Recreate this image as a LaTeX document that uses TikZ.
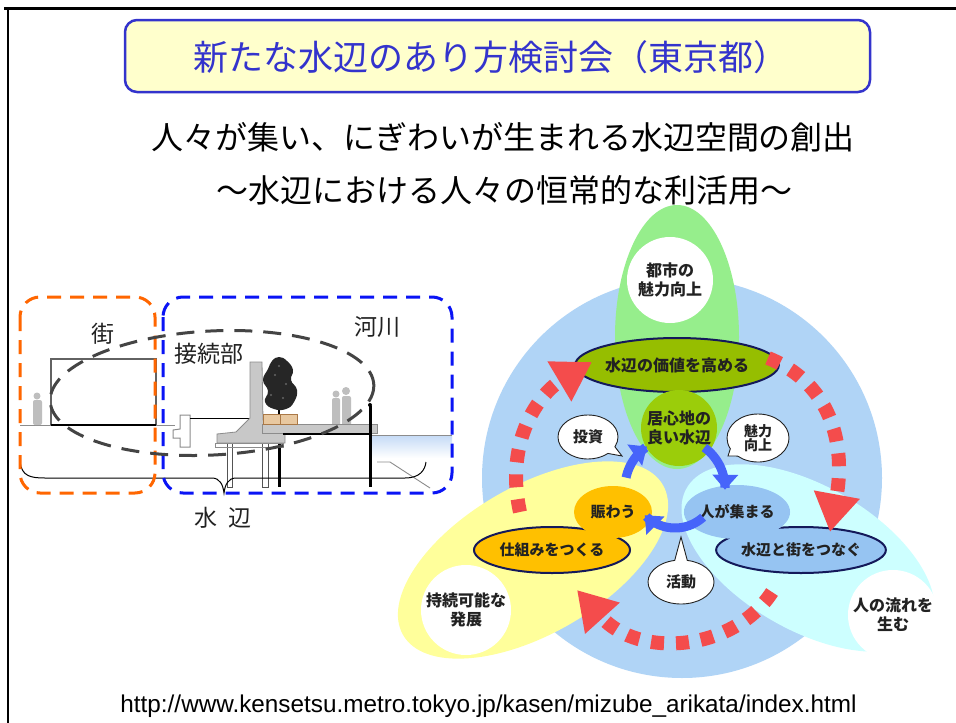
\documentclass[tikz,border=0pt]{standalone}
\usepackage{fontspec}
\setmainfont{Liberation Sans}
\newfontfamily\jp{Noto Sans CJK JP}
\usetikzlibrary{shapes.geometric,shapes.callouts,arrows.meta}

\definecolor{titlefill}{RGB}{255,255,204}
\definecolor{titleblue}{RGB}{51,51,204}
\definecolor{txt}{RGB}{34,34,34}
\definecolor{townorange}{RGB}{255,102,0}
\definecolor{riverblue}{RGB}{10,20,245}
\definecolor{linkgrey}{RGB}{68,68,68}
\definecolor{wallgrey}{RGB}{200,200,200}
\definecolor{edgegrey}{RGB}{140,140,140}
\definecolor{persongrey}{RGB}{190,190,190}
\definecolor{skyblue}{RGB}{176,212,246}
\definecolor{leafgreen}{RGB}{150,238,140}
\definecolor{olive}{RGB}{150,190,0}
\definecolor{olivelight}{RGB}{155,205,10}
\definecolor{paleyellow}{RGB}{255,255,155}
\definecolor{palecyan}{RGB}{205,255,255}
\definecolor{amber}{RGB}{255,192,0}
\definecolor{midblue}{RGB}{150,196,242}
\definecolor{navy}{RGB}{20,25,90}
\definecolor{redsq}{RGB}{244,76,76}
\definecolor{cyclearrow}{RGB}{70,100,250}
\definecolor{planter}{RGB}{232,200,160}
\definecolor{planteredge}{RGB}{170,120,70}
\definecolor{waterblue}{RGB}{196,218,246}

\tikzset{
  jpbig/.style={font=\jp\fontsize{32}{36}\selectfont, text=black, inner sep=0},
  sectlabel/.style={font=\jp\fontsize{23}{26}\selectfont, text=txt, inner sep=0},
  lblbig/.style={font=\jp\bfseries\fontsize{16}{19}\selectfont, text=txt, align=center, inner sep=0},
  oval/.style={ellipse, inner sep=0},
  bubble/.style={ellipse callout, draw=txt, fill=white, line width=0.9, inner sep=0,
                 callout pointer arc=22, font=\jp\bfseries\fontsize{15}{16}\selectfont,
                 text=txt, align=center},
  redarc/.style={draw=redsq, line width=14, dash pattern=on 13 off 12,
                 -{Triangle[width=44pt,length=38pt]}},
  bluearc/.style={draw=cyclearrow, line width=9, -{Triangle[width=25pt,length=15pt]}},
  zone/.style={line width=3, dash pattern=on 14 off 9, rounded corners=20},
  person/.style={fill=persongrey, draw=none},
}

\begin{document}
\begin{tikzpicture}[x=1pt,y=-1pt]
\useasboundingbox (0,0) rectangle (956,723);
\fill[white] (0,0) rectangle (956,723);

% page frame
\draw[line width=3] (4,8) -- (956,8);
\draw[line width=2.5] (8,8) -- (8,723);

% title box
\node[draw=titleblue, fill=titlefill, line width=2.5, rounded corners=12,
      minimum width=745, minimum height=72, inner sep=0] (titlebox) at (497.5,56) {};
\node[font=\jp\fontsize{35}{40}\selectfont, text=titleblue, inner sep=0] (title)
      at (491,57) {新たな水辺のあり方検討会（東京都）};

% headline
\node[jpbig] (head1) at (503,137) {人々が集い、にぎわいが生まれる水辺空間の創出};
\node[jpbig] (head2) at (504,190) {～水辺における人々の恒常的な利活用～};

% ---------------- cross-section ----------------
% ground and building
\draw[draw=edgegrey, line width=1] (20,425) -- (175,425);
\draw[draw=edgegrey!70!black, line width=1.2] (51,425) -- (51,359) -- (156,359) -- (156,425);
\draw[line width=2] (51,425) -- (156,425);
% people
\fill[person] (37,396) circle[radius=3.5];
\fill[person, rounded corners=2] (33,400) rectangle (42,425);
\fill[person] (336,394) circle[radius=3.5];
\fill[person, rounded corners=2] (332,398) rectangle (340,427);
\fill[person] (346,391) circle[radius=4];
\fill[person, rounded corners=2] (342,396) rectangle (351,427);
% small stair block
\draw[draw=edgegrey, line width=1] (180,415) -- (190,415) -- (190,447) -- (180,447)
      -- (180,438) -- (173,438) -- (173,430) -- (180,429) -- cycle;
\draw[line width=0.8] (190,418) -- (250,418);
% piles
\draw[draw=edgegrey!60!black, line width=0.9] (227,443) rectangle (232,487);
\draw[draw=edgegrey!60!black, line width=0.9] (262,443) rectangle (268,487);
\draw[line width=3] (279,437) -- (279,487);
% water
\shade[top color=waterblue, bottom color=white] (372,435) rectangle (452,458);
\draw[draw=edgegrey, line width=1] (372,435) -- (452,435);
\draw[draw=edgegrey, line width=0.9] (377,462) -- (390,462) -- (430,488);
% wall, slab and walkway
\draw[draw=edgegrey, fill=wallgrey, line width=0.8] (250,362) -- (262,362) -- (263,420)
      -- (285,428) -- (285,443) -- (217,443) -- (217,434) -- (236,432) -- (250,418) -- cycle;
\draw[draw=edgegrey, line width=0.8] (215,443) rectangle (283,447);
\draw[draw=edgegrey, fill=wallgrey, line width=0.8] (262,424) rectangle (377,433);
\draw[line width=1.5] (283,434) -- (370,434);
\draw[line width=3] (370,406) -- (370,487);
\fill (370,405) circle[radius=2];
% planter and tree
\draw[draw=planteredge, fill=planter, line width=0.8] (263,414) rectangle (297,424);
\draw[draw=planteredge, line width=0.8] (280,414) -- (280,424);
\draw[line width=1.5] (279,404) -- (279,414);
\fill[black!85] plot[smooth cycle, tension=0.8] coordinates {(279,357) (287,361) (293,370)
      (291,380) (297,390) (294,402) (286,409) (274,409) (265,402) (268,391) (263,380)
      (268,369) (272,361)};
\fill[black!60] (275,375) circle[radius=1.2] (286,384) circle[radius=1.2]
      (271,395) circle[radius=1.2] (283,398) circle[radius=1.2] (279,366) circle[radius=1.2];
% brace under the section
\draw[line width=1] (20,462) .. controls (22,476) and (30,478) .. (45,478) -- (212,478)
      .. controls (220,478) and (223,485) .. (224,493)
      .. controls (225,485) and (228,478) .. (236,478) -- (405,478)
      .. controls (420,478) and (425,470) .. (426,462);
% zones
\draw[zone, draw=townorange] (20,297) rectangle (155,493);
\draw[zone, draw=riverblue] (163,297) rectangle (452,493);
\draw[draw=linkgrey, line width=3, dash pattern=on 18 off 11, rotate around={3:(212,393)}]
      (212,393) ellipse[x radius=162, y radius=62];
% section labels
\node[sectlabel] (town) at (103,334) {街};
\node[sectlabel] (joint) at (209,354) {接続部};
\node[sectlabel] (river) at (377,327) {河川};
\node[sectlabel] (shore) at (223,518) {水\hspace{12pt}辺};

% ---------------- cycle diagram ----------------
\fill[skyblue] (682,478) circle[radius=200];
\fill[paleyellow, rotate around={30:(533,560)}] (533,560) ellipse[x radius=150, y radius=74];
\fill[palecyan, rotate around={-30:(808,558)}] (808,558) ellipse[x radius=140, y radius=72];
\fill[leafgreen] (677,337) ellipse[x radius=62, y radius=132];

\node[oval, fill=white, minimum size=86] (city) at (670,280) {};
\node[lblbig] at (city) {都市の\\魅力向上};
\node[circle, fill=white, minimum size=90, inner sep=0] (sustain) at (466,610) {};
\node[lblbig] at (sustain) {持続可能な\\発展};
\node[circle, fill=white, minimum size=90, inner sep=0] (flow) at (893,615) {};
\node[lblbig] at (flow) {人の流れを\\生む};

\node[oval, fill=olive, draw=navy, line width=2, minimum width=158, minimum height=54,
      font=\jp\bfseries\fontsize{16}{19}\selectfont, text=txt] (value) at (677,365) {水辺の価値を高める};
\node[circle, fill=olivelight, minimum size=76, inner sep=0] (comfort) at (679,428) {};
\node[lblbig] at (comfort) {居心地の\\良い水辺};

\node[oval, fill=amber, draw=navy, line width=2, minimum width=156, minimum height=46,
      font=\jp\bfseries\fontsize{15}{18}\selectfont, text=txt] (scheme) at (552,550) {仕組みをつくる};
\node[oval, fill=midblue, draw=navy, line width=2, minimum width=156, minimum height=46,
      font=\jp\bfseries\fontsize{15}{18}\selectfont, text=txt] (connect) at (801,550) {水辺と街をつなぐ};
\node[oval, fill=amber, minimum width=78, minimum height=52,
      font=\jp\bfseries\fontsize{15}{18}\selectfont, text=txt] (lively) at (613,512) {賑わう};
\node[oval, fill=midblue, minimum width=84, minimum height=54,
      font=\jp\bfseries\fontsize{15}{18}\selectfont, text=txt] (gather) at (737,512) {人が集まる};

% speech bubbles
\node[bubble, minimum width=60, minimum height=44, callout absolute pointer={(622,456)}]
      (invest) at (588,437) {投資};
\node[bubble, minimum width=62, minimum height=48, callout absolute pointer={(728,456)},
      font=\jp\bfseries\fontsize{14}{14}\selectfont] (appeal) at (758,438) {魅力\\向上};
\node[bubble, minimum width=66, minimum height=44, callout absolute pointer={(681,537)}]
      (activity) at (681,582) {活動};

% inner cycle
\draw[bluearc] plot[domain=192:236, samples=20, smooth] ({675+50*cos(\x)}, {488+50*sin(\x)});
\draw[bluearc] plot[domain=306:362, samples=20, smooth] ({675+50*cos(\x)}, {488+50*sin(\x)});
\draw[bluearc] plot[domain=48:136, samples=25, smooth] ({675+42*cos(\x)}, {486+42*sin(\x)});

% outer cycle
\draw[redarc] (520,512) .. controls (504,440) and (540,393) .. (592,362);
\draw[redarc] (768,358) .. controls (835,385) and (845,450) .. (830,532);
\draw[redarc] (772,592) .. controls (735,650) and (640,660) .. (577,590);

% source
\node[font=\fontsize{24.3}{28}\selectfont, text=black, inner sep=0, anchor=base] (src) at (488.5,712)
      {http://www.kensetsu.metro.tokyo.jp/kasen/mizube\_arikata/index.html};
\end{tikzpicture}
\end{document}
